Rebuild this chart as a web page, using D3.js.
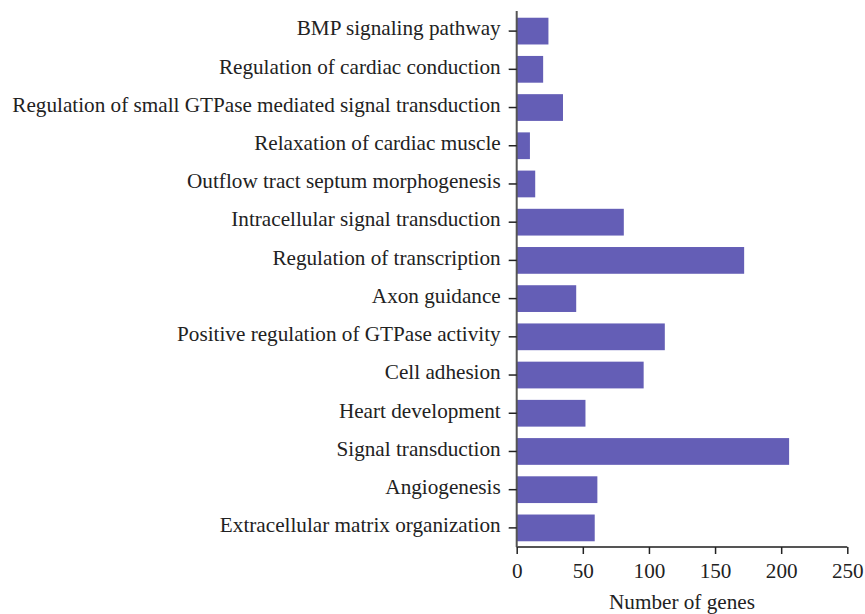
<!DOCTYPE html>
<html><head><meta charset="utf-8">
<script src="https://cdn.jsdelivr.net/npm/d3@7/dist/d3.min.js"></script>
<style>body{margin:0;background:#fff}svg{display:block}</style>
</head><body>
<svg id="c" width="865" height="614"></svg>
<script>
const categories = [
  "BMP signaling pathway",
  "Regulation of cardiac conduction",
  "Regulation of small GTPase mediated signal transduction",
  "Relaxation of cardiac muscle",
  "Outflow tract septum morphogenesis",
  "Intracellular signal transduction",
  "Regulation of transcription",
  "Axon guidance",
  "Positive regulation of GTPase activity",
  "Cell adhesion",
  "Heart development",
  "Signal transduction",
  "Angiogenesis",
  "Extracellular matrix organization"
];
const values = [24, 20, 35, 10, 14, 81, 172, 45, 112, 96, 52, 206, 61, 59];
const xTicks = [0, 50, 100, 150, 200, 250];
const xTitle = "Number of genes";

const svg = d3.select("#c");
const font = "'Liberation Serif', 'DejaVu Serif', serif";
const fs = 21.2;
const x = d3.scaleLinear().domain([0, 250]).range([516.7, 847.3]);
const y = d3.scaleBand().domain(categories).range([12, 547]).paddingInner(0.3).paddingOuter(0.15);

svg.append("g").selectAll("rect").data(values).join("rect")
  .attr("x", x(0))
  .attr("y", (d, i) => y(categories[i]))
  .attr("width", d => x(d) - x(0))
  .attr("height", y.bandwidth())
  .attr("fill", "#645eb6");

const yAxis = svg.append("g").attr("transform", `translate(${x(0)},0)`)
  .call(d3.axisLeft(y).tickSize(8).tickPadding(8));
yAxis.select(".domain").attr("d", "M0,11V547").attr("stroke", "#555").attr("stroke-width", 2);
yAxis.selectAll(".tick line").attr("stroke", "#222").attr("stroke-width", 1.5);
yAxis.selectAll("text").attr("font-family", font).attr("font-size", fs).attr("fill", "#222").attr("dy", "0.2em");

const xAxis = svg.append("g").attr("transform", `translate(0,547)`)
  .call(d3.axisBottom(x).tickValues(xTicks).tickSize(7).tickPadding(9));
xAxis.select(".domain").attr("d", `M${x(0)},0H${x(250)}`).attr("stroke", "#555").attr("stroke-width", 2);
xAxis.selectAll(".tick line").attr("stroke", "#222").attr("stroke-width", 1.5);
xAxis.selectAll("text").attr("font-family", font).attr("font-size", fs).attr("fill", "#222");

svg.append("text").attr("x", (x(0) + x(250)) / 2).attr("y", 609)
  .attr("text-anchor", "middle").attr("font-family", font).attr("font-size", fs).attr("fill", "#222")
  .text(xTitle);
</script>
</body></html>
